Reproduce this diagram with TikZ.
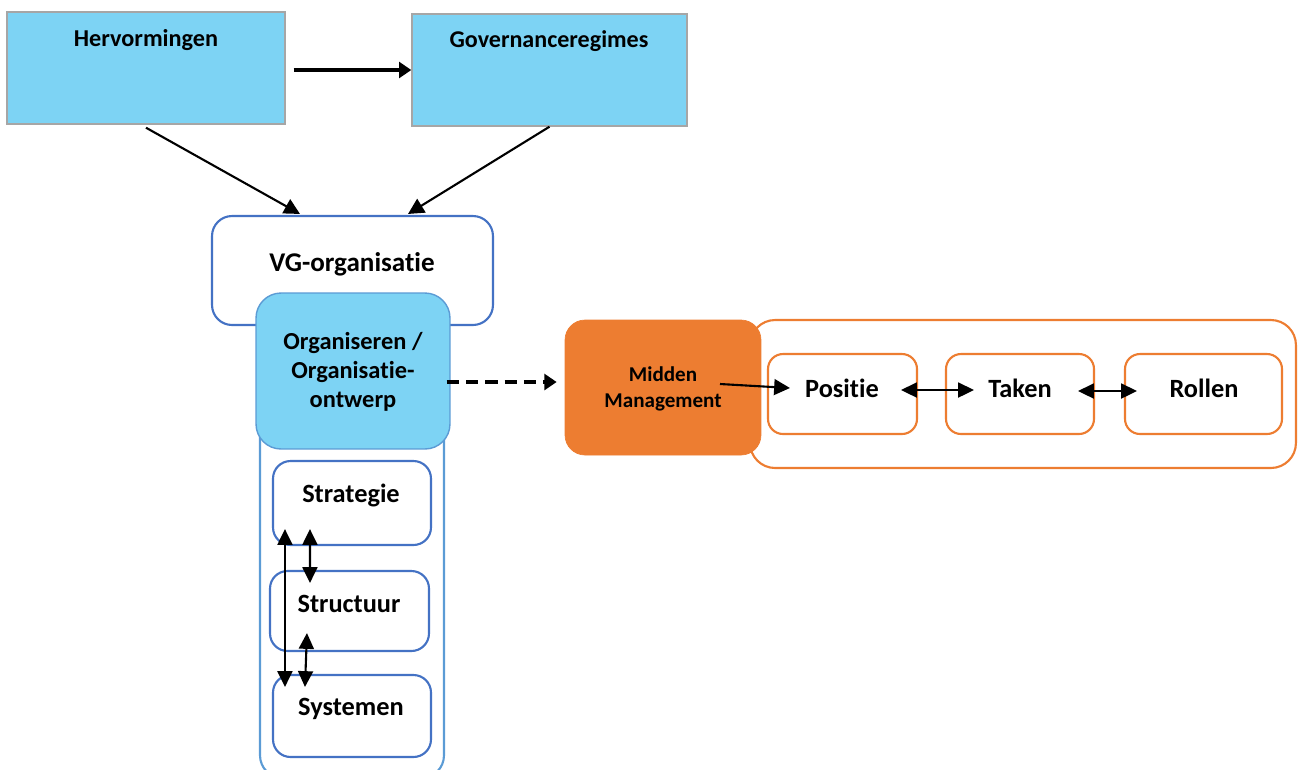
\documentclass[tikz,border=0pt]{standalone}
\usepackage{fontspec}
\setmainfont[Ligatures=NoCommon]{Carlito}
\usetikzlibrary{arrows.meta,calc}
\definecolor{skyfill}{HTML}{7DD3F4}
\definecolor{greyline}{HTML}{A6A6A6}
\definecolor{darkblue}{HTML}{4472C4}
\definecolor{lightblue}{HTML}{5B9BD5}
\definecolor{orangefill}{HTML}{ED7D31}
\tikzset{
  topbox/.style={draw=greyline, line width=0.8pt, fill=skyfill, inner sep=0pt},
  bluebox/.style={draw=darkblue, line width=1.2pt, fill=white, rounded corners=0.4cm, inner sep=0pt},
  shell/.style={draw=lightblue, line width=1.2pt, fill=white, rounded corners=0.45cm, inner sep=0pt},
  orgbox/.style={draw=lightblue, line width=0.8pt, fill=skyfill, rounded corners=0.5cm, inner sep=0pt},
  subbox/.style={draw=darkblue, line width=1.2pt, fill=white, rounded corners=0.35cm, inner sep=0pt},
  oshell/.style={draw=orangefill, line width=1.2pt, fill=white, rounded corners=0.5cm, inner sep=0pt},
  obox/.style={draw=orangefill, line width=1.2pt, fill=white, rounded corners=0.3cm, inner sep=0pt},
  mmbox/.style={draw=orangefill, fill=orangefill, rounded corners=0.4cm, inner sep=0pt},
  txt/.style={font=\bfseries, inner sep=0pt, align=center},
  arr/.style={line width=1.2pt, -{Triangle[length=9pt,width=9pt]}},
  dblarr/.style={line width=1.2pt, {Triangle[length=9pt,width=8.5pt]}-{Triangle[length=9pt,width=8.5pt]}},
  thickarr/.style={line width=2.2pt, -{Triangle[length=7pt,width=9pt]}},
}
\begin{document}
\begin{tikzpicture}[x=0.02cm, y=-0.02cm]
\useasboundingbox (0,0) rectangle (1302,769);

% top level
\node[topbox, minimum width=5.56cm, minimum height=2.24cm] (herv) at (146,68) {};
\node[topbox, minimum width=5.50cm, minimum height=2.24cm] (gov) at (549.5,70) {};
\node[txt, font=\fontsize{13.8}{16}\selectfont\bfseries] (hervt) at (146,40) {Hervormingen};
\node[txt, font=\fontsize{13.7}{16}\selectfont\bfseries] (govt) at (549,41) {Governanceregimes};

% organisation column
\node[bluebox, minimum width=5.62cm, minimum height=2.18cm] (vg) at (352.5,270.5) {};
\node[txt, font=\fontsize{15.4}{18}\selectfont\bfseries] (vgt) at (352,264) {VG-organisatie};
\node[shell, minimum width=3.68cm, minimum height=9.56cm] (cont) at (352,539) {};
\node[orgbox, minimum width=3.88cm, minimum height=3.12cm] (org) at (353,371) {};
\node[txt, font=\fontsize{13.9}{16.4}\selectfont\bfseries] (orgt) at (353,372) {Organiseren /\\Organisatie-\\ontwerp};

\node[subbox, minimum width=3.16cm, minimum height=1.68cm] (strat) at (352,503) {};
\node[subbox, minimum width=3.18cm, minimum height=1.60cm] (struct) at (349.5,611) {};
\node[subbox, minimum width=3.16cm, minimum height=1.64cm] (syst) at (352,716) {};
\node[txt, font=\fontsize{15}{18}\selectfont\bfseries] (stratt) at (351,495) {Strategie};
\node[txt, font=\fontsize{15}{18}\selectfont\bfseries] (structt) at (349,604) {Structuur};
\node[txt, font=\fontsize{15}{18}\selectfont\bfseries] (systt) at (351,709) {Systemen};

% middle management
\node[oshell, minimum width=10.92cm, minimum height=2.96cm] (ocont) at (1023,394) {};
\node[mmbox, minimum width=3.92cm, minimum height=2.70cm] (mm) at (663,387.5) {};
\node[txt, font=\fontsize{12}{14.7}\selectfont\bfseries] (mmt) at (663,389) {Midden\\Management};
\node[obox, minimum width=2.98cm, minimum height=1.60cm] (pos) at (842.5,394) {};
\node[obox, minimum width=2.96cm, minimum height=1.60cm] (taken) at (1020,394) {};
\node[obox, minimum width=3.14cm, minimum height=1.60cm] (rollen) at (1203.5,394) {};
\node[txt, font=\fontsize{15}{18}\selectfont\bfseries] (post) at (842,388) {Positie};
\node[txt, font=\fontsize{15}{18}\selectfont\bfseries] (takent) at (1020,388) {Taken};
\node[txt, font=\fontsize{15}{18}\selectfont\bfseries] (rollent) at (1204,388) {Rollen};

% connectors
\draw[thickarr] ($(herv.east)+(8,2)$) -- (gov.west);
\draw[arr] ($(herv.south)+(0,3)$) -- ($(vg.north)+(-52.5,-1)$);
\draw[arr] (gov.south) -- ($(vg.north)+(55.5,-1)$);
\draw[thickarr, dash pattern=on 7pt off 4pt] ($(org.east)+(-4,11)$) -- ($(mm.west)+(-8,-5.5)$);

\draw[dblarr] ($(strat.south west)+(13,-17)$) -- ($(syst.north west)+(13,13)$);
\draw[dblarr] ($(strat.south west)+(38,-17)$) -- ($(struct.north west)+(41,13)$);
\draw[dblarr] ($(struct.south west)+(38,-19)$) -- ($(syst.north west)+(33,13)$);

\draw[arr] ($(mm.center)+(57,-3.5)$) -- ($(pos.west)+(23,-6)$);
\draw[dblarr] ($(pos.east)+(-17,-4)$) -- ($(taken.west)+(29,-4)$);
\draw[dblarr] ($(taken.east)+(-17,-3)$) -- ($(rollen.west)+(13,-3)$);
\end{tikzpicture}
\end{document}
